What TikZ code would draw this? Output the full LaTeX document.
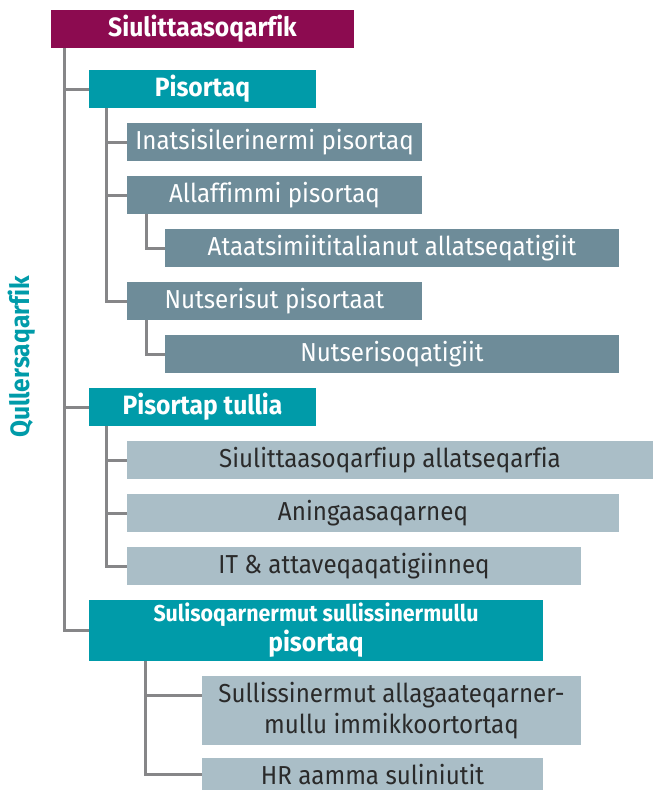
\documentclass[tikz,border=0pt]{standalone}
\usepackage{fontspec}
\setmainfont{Fira Sans}[FakeStretch=0.93, Ligatures=CommonOff]
\usepackage{tikz}
\usetikzlibrary{positioning}
\definecolor{headred}{HTML}{8C0B50}
\definecolor{boxteal}{HTML}{009BA9}
\definecolor{boxslate}{HTML}{6E8C99}
\definecolor{boxlight}{HTML}{AABEC7}
\definecolor{linegray}{HTML}{868688}
\definecolor{textdark}{HTML}{2A2A2A}
\tikzstyle{head} = [rectangle, anchor=north west, minimum width=303pt, minimum height=38pt, inner sep=0pt, outer sep=0pt, text centered, fill=headred, text=white, font={\bfseries\fontsize{26.5}{30}\selectfont}]
\tikzstyle{chief} = [rectangle, minimum width=227pt, minimum height=38pt, inner sep=0pt, outer sep=0pt, text centered, fill=boxteal, text=white, font={\bfseries\fontsize{26.5}{30}\selectfont}]
\tikzstyle{office} = [rectangle, minimum width=295pt, minimum height=38pt, inner sep=0pt, outer sep=0pt, text centered, fill=boxslate, text=white, font={\fontsize{26}{31}\selectfont}]
\tikzstyle{unit} = [rectangle, minimum height=38pt, inner sep=0pt, outer sep=0pt, text centered, fill=boxlight, text=textdark, font={\fontsize{26}{31}\selectfont}]
\tikzstyle{line} = [draw=linegray, line width=3pt]

\begin{document}
\begin{tikzpicture}[x=1pt, y=-1pt, node distance=15pt]
        \useasboundingbox (0,0) rectangle (653,790);

        \node[head] at (51,10)                                                              (top)  {Siulittaasoqarfik};
        \node[chief, below=22pt of top.south west, anchor=north west, xshift=38pt]          (pis)  {Pisortaq};
        \node[office, below=of pis.south west, anchor=north west, xshift=38pt]              (lov)  {Inatsisilerinermi pisortaq};
        \node[office, below=of lov.south west, anchor=north west]                           (sek)  {Allaffimmi pisortaq};
        \node[office, minimum width=454pt, below=of sek.south west, anchor=north west, xshift=38pt] (udv) {Ataatsimiititalianut allatseqatigiit};
        \node[office, below=of udv.south west, anchor=north west, xshift=-38pt]             (ovs)  {Nutserisut pisortaat};
        \node[office, minimum width=454pt, below=of ovs.south west, anchor=north west, xshift=38pt] (ovt) {Nutserisoqatigiit};
        \node[chief, below=of ovt.south west, anchor=north west, xshift=-76pt]              (vic)  {Pisortap tullia};
        \node[unit, minimum width=526pt, below=of vic.south west, anchor=north west, xshift=38pt] (fsek) {Siulittaasoqarfiup allatseqarfia};
        \node[unit, minimum width=492pt, below=of fsek.south west, anchor=north west]       (oek)  {Aningaasaqarneq};
        \node[unit, minimum width=454pt, below=of oek.south west, anchor=north west]        (it)   {IT \& attaveqaqatigiinneq};
        \node[chief, minimum width=454pt, minimum height=61pt, align=center, below=of it.south west, anchor=north west, xshift=-38pt] (hr)
            {{\fontsize{23}{30}\selectfont Sulisoqarnermut sullissinermullu}\\pisortaq};
        \node[unit, minimum width=379pt, minimum height=69pt, align=center, below=of hr.south west, anchor=north west, xshift=113pt] (pers)
            {Sullissinermut allagaateqarner-\\mullu immikkoortortaq};
        \node[unit, minimum width=341pt, minimum height=33pt, below=13pt of pers.south west, anchor=north west] (hrp) {HR aamma suliniutit};

        \node[rotate=90, text=boxteal, font={\bfseries\fontsize{26.5}{30}\selectfont}] at (22,357) (lvl) {Qullersaqarfik};

        % top level
        \draw[line] ([xshift=13pt]top.south west) |- (pis.west);
        \draw[line] ([xshift=13pt]top.south west) |- (vic.west);
        \draw[line] ([xshift=13pt]top.south west) |- (hr.west);
        % Pisortaq
        \draw[line] ([xshift=17.5pt]pis.south west) |- (lov.west);
        \draw[line] ([xshift=17.5pt]pis.south west) |- (sek.west);
        \draw[line] ([xshift=17.5pt]pis.south west) |- (ovs.west);
        \draw[line] ([xshift=19pt]sek.south west) |- (udv.west);
        \draw[line] ([xshift=19pt]ovs.south west) |- (ovt.west);
        % Pisortap tullia
        \draw[line] ([xshift=17.5pt]vic.south west) |- (fsek.west);
        \draw[line] ([xshift=17.5pt]vic.south west) |- (oek.west);
        \draw[line] ([xshift=17.5pt]vic.south west) |- (it.west);
        % Sulisoqarnermut
        \draw[line] ([xshift=56.5pt]hr.south west) |- ([yshift=15pt]pers.west);
        \draw[line] ([xshift=56.5pt]hr.south west) |- (hrp.west);
    \end{tikzpicture}
\end{document}
